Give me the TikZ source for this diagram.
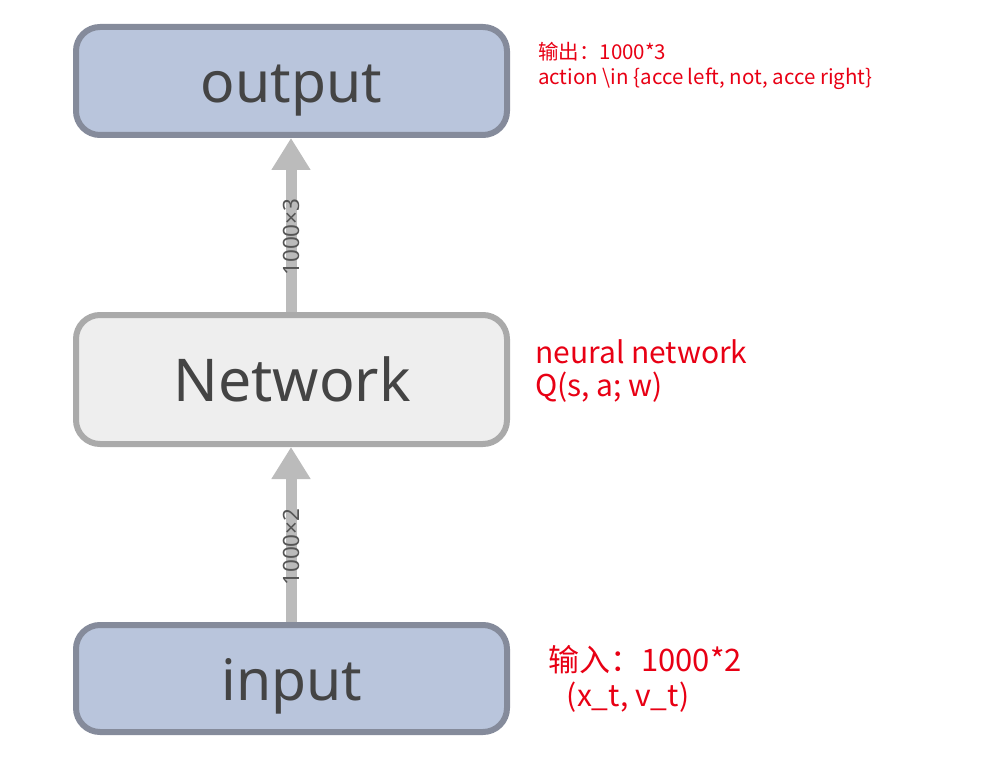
\documentclass[tikz,border=0pt]{standalone}
\usepackage{fontspec}
\setmainfont{Noto Sans}
\newfontfamily\cjk{Noto Sans CJK SC}
\usetikzlibrary{arrows.meta}
\definecolor{bluefill}{HTML}{B9C5DC}
\definecolor{blueedge}{HTML}{858B9B}
\definecolor{grayfill}{HTML}{EEEEEE}
\definecolor{grayedge}{HTML}{AAAAAA}
\definecolor{arrowgray}{HTML}{BBBBBB}
\definecolor{labelgray}{HTML}{555555}
\definecolor{boxtext}{HTML}{444444}
\definecolor{annot}{RGB}{232,0,20}
\tikzset{
  box/.style={draw, line width=6pt, rounded corners=24pt, minimum width=431pt, inner sep=0pt},
  bluebox/.style={box, fill=bluefill, draw=blueedge},
  graybox/.style={box, fill=grayfill, draw=grayedge},
  boxlabel/.style={text=boxtext, anchor=base, inner sep=0pt},
  flow/.style={draw=arrowgray, line width=11pt, -{Triangle[length=32pt, width=37pt]}},
  dimlabel/.style={text=labelgray, rotate=90, inner sep=0pt, font=\fontsize{22.5}{22.5}\selectfont},
  note/.style={text=annot, anchor=base west, inner sep=0pt, font=\cjk},
}
\begin{document}
\begin{tikzpicture}[x=1pt, y=-1pt]
\useasboundingbox (0,0) rectangle (991,770);
% boxes
\node[bluebox, minimum height=108pt] (out) at (291.5,81) {};
\node[graybox, minimum height=129pt] (net) at (291.5,379.5) {};
\node[bluebox, minimum height=107pt] (in) at (291.5,678.5) {};
% box texts
\node[boxlabel, font=\fontsize{57}{57}\selectfont] (outt) at (291.5,102.7) {output};
\node[boxlabel, font=\fontsize{59}{59}\selectfont] (nett) at (292,401.7) {Network};
\node[boxlabel, font=\fontsize{57}{57}\selectfont] (int) at (292,700.7) {input};
% arrows
\draw[flow] (net.north -| 291,0) coordinate (a1s) -- (out.south -| 291,0) coordinate (a1e);
\draw[flow] (in.north -| 291,0) coordinate (a2s) -- (net.south -| 291,0) coordinate (a2e);
\node[dimlabel] (l1) at (291,237) {1000×3};
\node[dimlabel] (l2) at (291,547) {1000×2};
% annotations
\node[note, font=\cjk\fontsize{20.5}{20.5}\selectfont] (n1a) at (538,60) {输出：1000*3};
\node[note, font=\cjk\fontsize{20.5}{20.5}\selectfont] (n1b) at (538,85) {action \textbackslash in \{acce left, not, acce right\}};
\node[note, font=\cjk\fontsize{30}{30}\selectfont] (n2a) at (535,363) {neural network};
\node[note, font=\cjk\fontsize{30}{30}\selectfont] (n2b) at (535,396.7) {Q(s, a; w)};
\node[note, font=\cjk\fontsize{31}{31}\selectfont] (n3a) at (548,671.7) {输入：1000*2};
\node[note, font=\cjk\fontsize{30}{30}\selectfont] (n3b) at (566.7,706.7) {(x\_t, v\_t)};
\end{tikzpicture}
\end{document}
